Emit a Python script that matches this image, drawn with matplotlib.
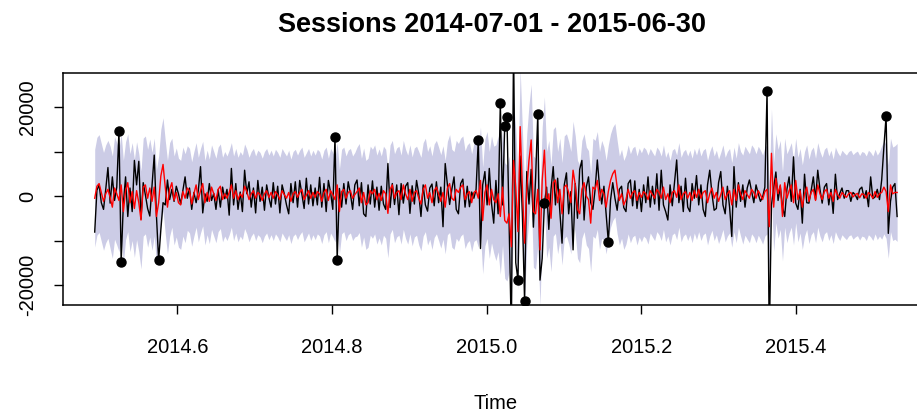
import numpy as np
import matplotlib.pyplot as plt

plt.rcParams['font.family'] = ['Liberation Sans', 'DejaVu Sans']

# daily sessions (detrended), 2014-07-01 .. 2015-06-30
sessions = [
    -8100, 1300, 2500, -1500, -3000, 1500, 6400, -1600, 4300, -1000,
    2000, 14600, -14800, -1600, 4300, -4600, 1800, -3500, 8000, 2500,
    7800, -5200, 3000, 200, -2800, -4500, 2500, 9200, -4400, -14450,
    -7600, -1500, -2000, 3600, -800, 1500, -1200, 2200, 500, -1800,
    1200, 4300, -500, 1800, -3000, 800, -1500, 1200, 6600, -3800,
    500, -1200, 2800, -1000, 600, -3000, 1400, -2500, 2000, -600,
    1500, -4300, 6200, -2000, 2800, -3000, 900, -3500, 5800, 500,
    3200, -2500, 1800, -3800, 3500, -1200, 2000, -3200, 2500, -300,
    -2500, 3000, -1800, 2200, -3800, 2500, 500, -2000, -4000, 2800,
    -1500, 3200, -2500, 3500, 300, -2800, 4000, -1800, 2500, -2200,
    1800, -2000, 4200, -2500, 2800, -3500, 3500, 800, -3000, 13260,
    -14450, 1700, -2500, 2800, -1800, 3200, 500, -3000, 2500, 3600,
    -2200, 3000, -4000, -4600, 2500, -1800, 3400, -2500, 2000, -3200,
    2200, -1800, -3000, 7300, -2600, 2800, -1900, 2500, -4200, 2800,
    -1600, 2200, 3000, -3900, 2300, -1800, 3500, 500, -4600, 2500,
    -2000, -3400, 1800, 2700, -2200, 3200, -1500, 2000, -6900, 7300,
    2500, -1900, 1500, 4300, -3000, -4000, 2800, 3800, -2500, 2200,
    -2400, 900, -500, 1500, 12580, -11800, 2500, 5500, -2000, 6200,
    -1600, -6100, 3500, -4000, 20900, -2000, 15800, 17820, -6000, -31000,
    34000, -15000, -18880, 9000, -4000, -23520, 5500, -1800, 6000, -7000,
    4000, 18430, -18900, -14000, -1640, 2000, -7500, 1500, 6600, -2000,
    4000, -3500, -10600, 2500, 5200, -4000, 1000, -12100, 2800, -5000,
    6000, 8000, -5400, 2000, 4300, -1500, -3000, 1500, 8100, 2000,
    -1800, 2200, -4000, -10340, -900, 3000, -500, -3200, 1500, 2200,
    -2600, -3500, 2800, 3600, -2200, 3400, -2800, 1500, -3500, 2500,
    -1500, 4300, -2500, 2200, -1800, 5000, -3200, 5800, -2000, -3500,
    -5400, 2500, -2200, 3000, 8100, -1500, 2200, -3500, 4000, -2500,
    -3500, 2800, -500, 4600, -2000, 2500, -3000, -4600, 2500, 5800,
    500, -3200, -2800, 3000, 5500, -2000, -4000, 2200, -2500, -9100,
    6600, -2500, 3000, -1200, 2500, -2500, 1800, 3600, 1000, -1500,
    2500, 500, -1200, -200, 2000, 23660, -33000, -2000, 1800, 5400,
    -1000, 2200, -2400, -4600, 1500, 4300, -1200, 8800, -1600, -3000,
    1500, -6100, 4900, -1500, -1600, 1200, 4300, -800, 5800, 1500,
    -1600, 2000, 2800, -2000, 1500, -3900, 4900, -800, 600, 1800,
    -500, 1200, 1200, -1200, 800, 300, -800, 1500, 2000, -500,
    1200, -2400, 4300, -600, -200, 1500, -800, 3600, 11000, 17980,
    -8400, -1200, 2000, 2800, -4600,
]

# one-step fitted values
fitted = [
    -500, 2200, 2800, 800, -1200, 500, 1500, -300, -2500, 1800,
    500, -1000, 2500, -3500, 1200, 3000, -1500, 1000, -2800, 1200,
    -1500, -5400, 2000, 2500, -500, 1800, -1200, 2000, -4600, -1500,
    4500, 7100, 2000, -2500, 1500, 3000, -1000, 800, -1500, -2000,
    1000, -500, 1800, 1200, -1800, 500, 2500, -800, 1200, 2800,
    -1500, 800, -1200, 2000, 500, -1000, 1500, 2200, -800, 500,
    -500, 800, 2500, -500, 1200, -800, 500, -300, 2200, 1000,
    -800, 500, 1200, -500, 800, 300, -1000, 500, 1200, -300,
    800, -500, 1000, 300, -800, 1200, 300, -500, 800, -1200,
    500, 1000, -300, 800, 1500, -800, 200, 1200, -500, 800,
    -300, 1000, 500, -1200, 800, 1500, -1000, 1200, 300, -800,
    2500, -3500, 1000, 1500, -500, 800, 1200, -500, 300, 1000,
    1800, -1500, 800, -2000, -1500, 1200, 500, 1500, -800, 600,
    -1000, 1200, 500, -3900, 1500, 2500, -500, 800, 1200, -800,
    2500, 500, -800, 1500, -1200, 800, 1200, -500, -1800, 1500,
    2500, -500, 800, -1500, 1200, 2000, 500, -1200, 800, -2500,
    1800, 2800, -500, -1000, 1500, 800, 2000, 2500, -800, 500,
    1000, -1500, 800, 1200, -500, 3500, -5500, 800, 2500, -2000,
    1500, -800, -1500, 500, -4600, 2000, -5500, -6100, -4000, -11400,
    8000, 2000, -8000, 15600, 2000, -10600, 1500, 8000, 12600, -3500,
    -4000, 1500, -12100, 3500, 10300, -2000, 500, -5000, 3000, 3600,
    -1500, 1500, -4000, 2000, 2500, 800, -1500, 5800, 2500, -3000,
    -4000, 1500, 3000, 0, -800, -6100, 2000, 1500, 3500, -1000,
    1500, 500, -2500, 1000, 3500, 5000, 5800, 2000, -1000, 500,
    -2000, -800, 1500, -500, 800, 1200, -1000, 800, -300, 1000,
    500, -800, 1200, 300, -500, 1500, 800, -500, 2000, -800,
    500, -1500, 800, 1200, -300, 2500, -800, 500, 1000, -500,
    800, -1000, 1200, -300, 1500, -500, 800, 1200, -1500, 500,
    1800, -500, 800, -1200, 300, 2000, -800, 500, 1200, -2000,
    1500, -1000, 2500, 500, -800, 1200, 300, -500, 1500, 800,
    -500, 1200, 300, -800, 1000, 1500, -6900, 9600, -2500, 4000,
    500, 2500, -4600, 3000, -500, 1200, 2500, -1500, 3500, -800,
    1200, -2500, 500, 2000, -1200, 800, 1500, -1000, 2500, 500,
    -800, 1000, 1500, -500, 800, -1200, 1500, 300, -500, 800,
    200, -300, 500, 800, -200, 300, 600, -400, 500, 300,
    -500, 800, 300, -500, 1000, -300, 500, 800, 2000, 1000,
    -3500, 2500, 500, 800, 800,
]

# half-width of the prediction band, one value per week
band_week = [
    11000, 11500, 11000, 11000, 10500,
    10000, 9500, 9500, 9500, 9500, 9500, 9500,
    9500, 9500, 9500, 9500, 9500, 10000,
    10000, 10000, 10000, 10500, 10500, 11000, 11000,
    12000, 13000, 13000, 12500, 12000, 11500,
    11000, 11000, 10500, 10000, 10000, 9500,
    9500, 9500, 9500, 9500, 9500, 10000, 10000,
    10000, 9500, 9500, 9500, 9500, 9500, 9500, 10500, 11000,
]

# days flagged as anomalies
anomaly_days = [11, 12, 29, 109, 110, 174, 184, 186, 187, 189, 190,
                192, 195, 201, 204, 233, 305, 306, 359]

y = np.array(sessions, dtype=float)
fit = np.array(fitted, dtype=float)
hw = np.repeat(band_week, 7)[:len(y)]
t = np.linspace(2014.493, 2015.531, len(y))

fig = plt.figure(figsize=(9.17, 4.15), dpi=100)
ax = fig.add_axes([0.0683, 0.265, 0.945, 0.559])

ax.fill_between(t, fit - hw, fit + hw, color='#CCCCE6', lw=0)
ax.plot(t, y, color='black', lw=1.0)
ax.plot(t, fit, color='red', lw=1.0)
ax.plot(t[anomaly_days], y[anomaly_days], 'o', color='black', ms=6.5)

ax.set_xlim(2014.4515, 2015.5725)
ax.set_ylim(-24500, 27640)

ax.set_xticks([2014.6, 2014.8, 2015.0, 2015.2, 2015.4])
ax.set_xticklabels(['2014.6', '2014.8', '2015.0', '2015.2', '2015.4'])
ax.set_yticks([-20000, -10000, 0, 10000, 20000])
ax.set_yticklabels(['-20000', '', '0', '', '20000'], rotation=90, va='center')
ax.tick_params(labelsize=14.5, length=6.5, width=1, direction='out')
ax.tick_params(axis='x', pad=17)
ax.tick_params(axis='y', pad=12)
for s in ax.spines.values():
    s.set_linewidth(1.1)

ax.set_xlabel('Time', fontsize=14.5, labelpad=27)
fig.text(0.537, 0.94, 'Sessions 2014-07-01 - 2015-06-30', fontsize=19.5,
         fontweight='bold', ha='center', va='center')

fig.savefig('out.png', dpi=100)
